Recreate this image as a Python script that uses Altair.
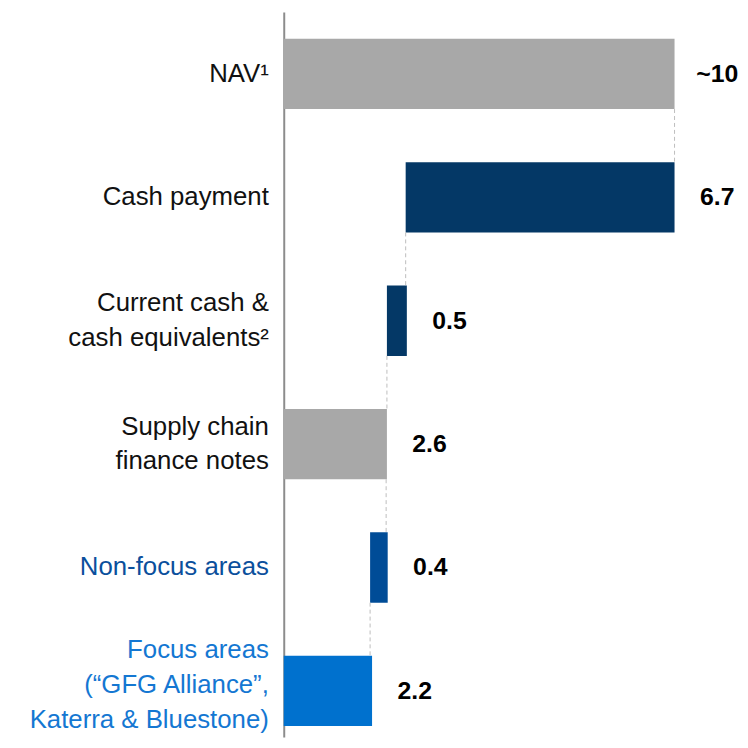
import altair as alt
import pandas as pd

keys = ["nav", "cash", "current", "supply", "nonfocus", "focus"]
categories = [
    "NAV¹",
    "Cash payment",
    "Current cash &\ncash equivalents²",
    "Supply chain\nfinance notes",
    "Non-focus areas",
    "Focus areas\n(“GFG Alliance”,\nKaterra & Bluestone)",
]
starts = [0, 3.12, 2.64, 0, 2.21, 0]
ends = [10, 10, 3.15, 2.64, 2.66, 2.26]
value_labels = ["~10", "6.7", "0.5", "2.6", "0.4", "2.2"]
groups = ["total", "deduct", "deduct", "total", "nonfocus", "focus"]

conn_from = ["nav", "cash", "current", "supply", "nonfocus"]
conn_to = ["cash", "current", "supply", "nonfocus", "focus"]
conn_x = [10, 3.12, 2.64, 2.62, 2.21]

bar_colors = {"total": "#a8a8a8", "deduct": "#043866", "nonfocus": "#004c97", "focus": "#0071ce"}
text_colors = {"total": "#111111", "deduct": "#111111", "nonfocus": "#0b4f9c", "focus": "#1477d2"}

df = pd.DataFrame({
    "key": keys,
    "category": categories,
    "start": starts,
    "end": ends,
    "label": value_labels,
    "group": groups,
})
df["bar_color"] = df["group"].map(bar_colors)
df["text_color"] = df["group"].map(text_colors)
df["nlines"] = df["category"].str.count("\n") + 1

conn = pd.DataFrame({"from": conn_from, "to": conn_to, "x": conn_x})

yscale = alt.Scale(domain=keys, paddingInner=0.43, paddingOuter=0.1527, align=0.7105)
xscale = alt.Scale(domain=[0, 10], nice=False)
half_band = 35.45
line_h = 35
extra_dy = {1: 0, 2: 0, 3: -6}

base = alt.Chart(df)

bars = base.mark_bar().encode(
    x=alt.X("start:Q", scale=xscale, axis=None),
    x2="end:Q",
    y=alt.Y("key:N", scale=yscale,
            axis=alt.Axis(labels=False, ticks=False, title=None, domain=True,
                          domainColor="#8c8c8c", domainWidth=2, grid=False)),
    color=alt.Color("bar_color:N", scale=None),
)

values = base.mark_text(font="Liberation Sans", fontWeight="bold", fontSize=25,
                        align="center", baseline="middle", dx=43, color="#000000").encode(
    x=alt.X("end:Q"),
    y=alt.Y("key:N"),
    text="label:N",
)

cat_layers = []
for n in (1, 2, 3):
    cat_layers.append(
        base.transform_filter(alt.datum.nlines == n).mark_text(
            font="Liberation Sans", fontSize=26, align="right", baseline="middle",
            lineBreak="\n", lineHeight=line_h, dy=-(n - 1) * line_h / 2 + extra_dy[n],
        ).encode(
            x=alt.value(-15),
            y=alt.Y("key:N"),
            text="category:N",
            color=alt.Color("text_color:N", scale=None),
        )
    )

rules = alt.Chart(conn).mark_rule(color="#bdbdbd", strokeWidth=1, strokeDash=[4, 3],
                                  yOffset=half_band, y2Offset=-half_band).encode(
    x=alt.X("x:Q"),
    y=alt.Y("from:N"),
    y2=alt.Y2("to:N"),
)

chart = alt.layer(bars, rules, values, *cat_layers).properties(
    width=394,
    height=731,
    autosize=alt.AutoSizeParams(type="none"),
    padding={"left": 278, "top": 1, "right": 66, "bottom": 0},
).configure_view(stroke=None)

chart.save("out.html", embed_options={"renderer": "svg", "actions": False})
